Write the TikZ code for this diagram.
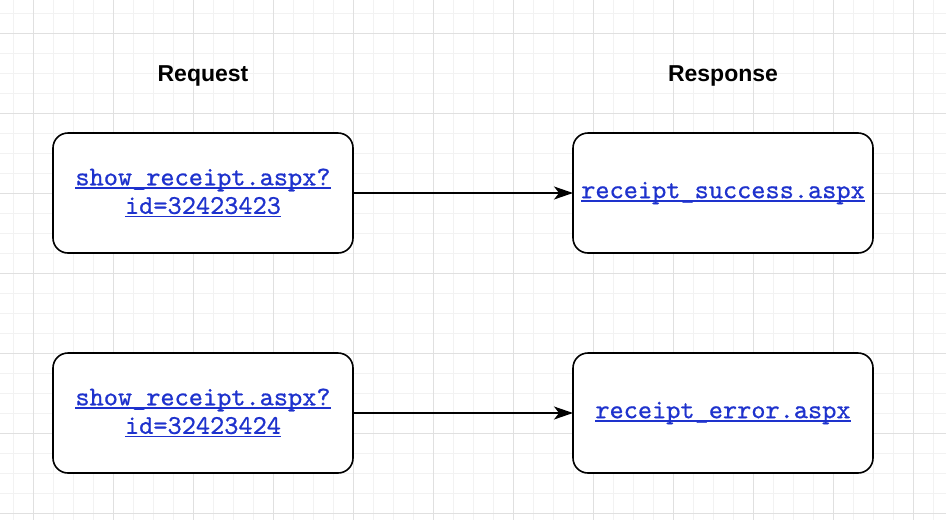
\documentclass[tikz,border=0pt]{standalone}
\usepackage{fontspec}
\setmainfont{Liberation Sans}
\setmonofont{lmmono10-regular}[Extension=.otf, FakeBold=0.7]
\usetikzlibrary{arrows.meta,positioning}
\definecolor{gridminor}{RGB}{242,242,242}
\definecolor{gridmajor}{RGB}{224,224,224}
\definecolor{linkblue}{RGB}{30,50,205}
\newcommand{\linkline}[1]{\leavevmode\setbox0\hbox{#1}\rlap{\rule[-3.5pt]{\wd0}{1.4pt}}\box0}

\begin{document}
\begin{tikzpicture}[x=1pt, y=1pt,
    pagebox/.style={draw, line width=1.6pt, rounded corners=15pt, fill=white, minimum width=300pt, minimum height=120pt, inner sep=0pt, outer sep=0pt, align=center, font=\fontsize{27}{28.5}\ttfamily, text=linkblue},
    flow/.style={-{Stealth[length=19pt, width=13pt, inset=5pt]}, line width=1.4pt},
    heading/.style={font=\fontsize{23}{28}\selectfont\bfseries}]
      % background and grid
      \fill[white] (0,0) rectangle (946,-520);
      \useasboundingbox (0,0) rectangle (946,-520);
      \foreach \x in {13,33,...,945} \draw[gridminor, line width=0.8pt] (\x,0) -- (\x,-520);
      \foreach \y in {13,33,...,519} \draw[gridminor, line width=0.8pt] (0,-\y) -- (946,-\y);
      \foreach \x in {33,113,...,945} \draw[gridmajor, line width=0.8pt] (\x,0) -- (\x,-520);
      \foreach \y in {33,113,...,519} \draw[gridmajor, line width=0.8pt] (0,-\y) -- (946,-\y);
      % pages
      \node[pagebox] (req1) at (203,-193) {\linkline{show\_receipt.aspx?}\\ \linkline{id=32423423}};
      \node[pagebox, right=220pt of req1] (resp1) {\linkline{receipt\_success.aspx}};
      \node[pagebox, below=100pt of req1] (req2) {\linkline{show\_receipt.aspx?}\\ \linkline{id=32423424}};
      \node[pagebox, right=220pt of req2] (resp2) {\linkline{receipt\_error.aspx}};
      \node[heading] (reqhead) at (203,-76) {Request};
      \node[heading] (resphead) at (723,-76) {Response};
      \draw[flow] (req1) -- (resp1);
      \draw[flow] (req2) -- (resp2);
    \end{tikzpicture}
\end{document}
